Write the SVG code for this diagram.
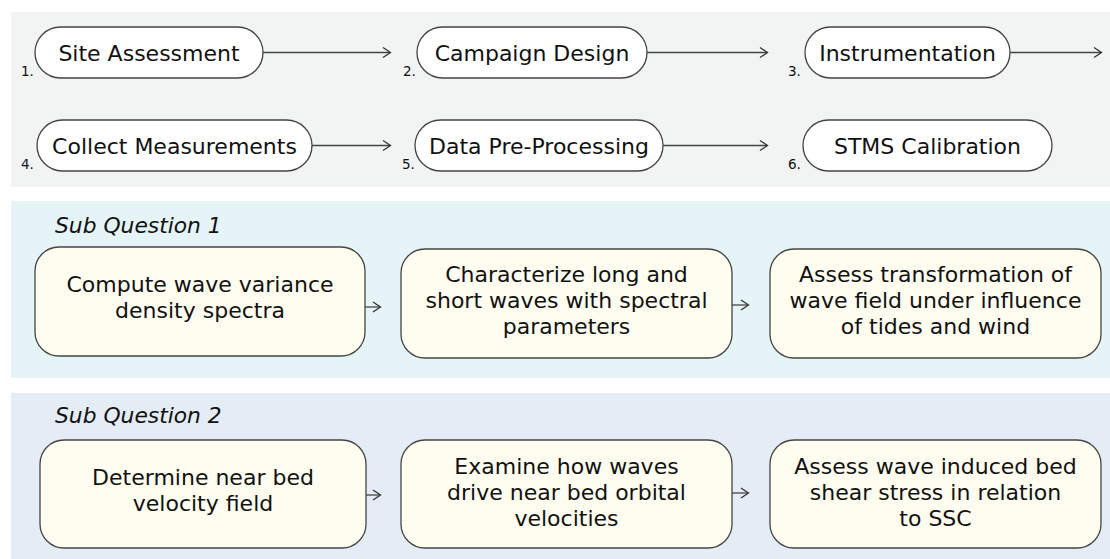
<svg xmlns="http://www.w3.org/2000/svg" width="1110" height="559" viewBox="0 0 1110 559">
  <style>
    .band-top { fill: #f2f3f3; }
    .band-q1 { fill: #e5f4f6; }
    .band-q2 { fill: #e4ecf6; }
    .pill { fill: #ffffff; stroke: #444444; stroke-width: 1.3; }
    .box { fill: #fffdf0; stroke: #444444; stroke-width: 1.3; }
    .lbl { font-family: "DejaVu Sans", sans-serif; font-size: 22px; fill: #111111; text-anchor: middle; }
    .num { font-family: "DejaVu Sans", sans-serif; font-size: 13.5px; fill: #111111; }
    .title { font-family: "DejaVu Sans", sans-serif; font-style: italic; font-size: 21.8px; fill: #111111; }
    .conn { fill: none; stroke: #444444; stroke-width: 1.3; }
    .head { fill: none; stroke: #333333; stroke-width: 1.3; }
  </style>

  <!-- background bands -->
  <rect class="band-top" x="11" y="12" width="1099" height="175"/>
  <rect class="band-q1" x="11" y="201" width="1099" height="177"/>
  <rect class="band-q2" x="11" y="393" width="1099" height="166"/>

  <!-- workflow steps -->
  <g id="step1">
    <rect class="pill" x="35" y="27" width="228" height="51" rx="25.5"/>
    <text class="lbl" x="149" y="61">Site Assessment</text>
    <text class="num" x="21" y="76">1.</text>
  </g>
  <g id="step2">
    <rect class="pill" x="417" y="27" width="230" height="51" rx="25.5"/>
    <text class="lbl" x="532" y="61">Campaign Design</text>
    <text class="num" x="403" y="76">2.</text>
  </g>
  <g id="step3">
    <rect class="pill" x="805" y="27" width="205" height="51" rx="25.5"/>
    <text class="lbl" x="907.5" y="61">Instrumentation</text>
    <text class="num" x="788" y="76">3.</text>
  </g>
  <g id="step4">
    <rect class="pill" x="37" y="120" width="275" height="51" rx="25.5"/>
    <text class="lbl" x="174.5" y="154">Collect Measurements</text>
    <text class="num" x="21" y="169">4.</text>
  </g>
  <g id="step5">
    <rect class="pill" x="415" y="120" width="248" height="51" rx="25.5"/>
    <text class="lbl" x="539" y="154">Data Pre-Processing</text>
    <text class="num" x="402" y="169">5.</text>
  </g>
  <g id="step6">
    <rect class="pill" x="803" y="120" width="249" height="51" rx="25.5"/>
    <text class="lbl" x="927.5" y="154">STMS Calibration</text>
    <text class="num" x="788" y="169">6.</text>
  </g>

  <!-- sub question headings -->
  <text class="title" x="55" y="233">Sub Question 1</text>
  <text class="title" x="55" y="423">Sub Question 2</text>

  <!-- sub question 1 tasks -->
  <g id="q1a">
    <rect class="box" x="35" y="247" width="330" height="109" rx="24"/>
    <text class="lbl" x="200" y="292">Compute wave variance</text>
    <text class="lbl" x="200" y="318">density spectra</text>
  </g>
  <g id="q1b">
    <rect class="box" x="401" y="249" width="331" height="109" rx="24"/>
    <text class="lbl" x="566.5" y="282">Characterize long and</text>
    <text class="lbl" x="566.5" y="308">short waves with spectral</text>
    <text class="lbl" x="566.5" y="334">parameters</text>
  </g>
  <g id="q1c">
    <rect class="box" x="770" y="249" width="331" height="109" rx="24"/>
    <text class="lbl" x="935.5" y="282">Assess transformation of</text>
    <text class="lbl" x="935.5" y="308">wave field under influence</text>
    <text class="lbl" x="935.5" y="334">of tides and wind</text>
  </g>

  <!-- sub question 2 tasks -->
  <g id="q2a">
    <rect class="box" x="40" y="440" width="326" height="108" rx="24"/>
    <text class="lbl" x="203" y="485">Determine near bed</text>
    <text class="lbl" x="203" y="511">velocity field</text>
  </g>
  <g id="q2b">
    <rect class="box" x="401" y="440" width="331" height="108" rx="24"/>
    <text class="lbl" x="566.5" y="474">Examine how waves</text>
    <text class="lbl" x="566.5" y="500">drive near bed orbital</text>
    <text class="lbl" x="566.5" y="526">velocities</text>
  </g>
  <g id="q2c">
    <rect class="box" x="770" y="440" width="331" height="108" rx="24"/>
    <text class="lbl" x="935.5" y="474">Assess wave induced bed</text>
    <text class="lbl" x="935.5" y="500">shear stress in relation</text>
    <text class="lbl" x="935.5" y="526">to SSC</text>
  </g>

  <!-- connectors: line plus open chevron head -->
  <g id="connectors">
    <path class="conn" d="M263 52.5 H390"/>
    <path class="head" d="M383 47.5 L390.5 52.5 L383 57.5"/>
    <path class="conn" d="M647 52.5 H767"/>
    <path class="head" d="M760 47.5 L767.5 52.5 L760 57.5"/>
    <path class="conn" d="M1010 52.5 H1101"/>
    <path class="head" d="M1094 47.5 L1101.5 52.5 L1094 57.5"/>

    <path class="conn" d="M312 145.5 H390"/>
    <path class="head" d="M383 140.5 L390.5 145.5 L383 150.5"/>
    <path class="conn" d="M663 145.5 H767"/>
    <path class="head" d="M760 140.5 L767.5 145.5 L760 150.5"/>

    <path class="conn" d="M365 307 H380"/>
    <path class="head" d="M373 302 L380.5 307 L373 312"/>
    <path class="conn" d="M732 305 H748"/>
    <path class="head" d="M741 300 L748.5 305 L741 310"/>

    <path class="conn" d="M366 495 H380"/>
    <path class="head" d="M373 490 L380.5 495 L373 500"/>
    <path class="conn" d="M732 493 H748"/>
    <path class="head" d="M741 488 L748.5 493 L741 498"/>
  </g>
</svg>
